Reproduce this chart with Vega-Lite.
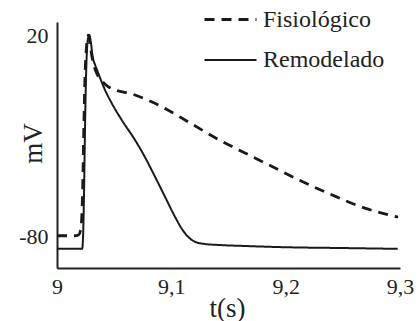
{
  "$schema": "https://vega.github.io/schema/vega-lite/v6.json",
  "width": 343,
  "height": 246,
  "autosize": "none",
  "padding": {"left": 57, "top": 22, "right": 18, "bottom": 53},
  "background": "white",
  "config": {
    "view": {"stroke": null},
    "font": "Liberation Serif",
    "axis": {"grid": false, "domainColor": "#222", "domainWidth": 2, "labelColor": "#222", "titleColor": "#222", "labelFont": "Liberation Serif", "titleFont": "Liberation Serif", "titleFontWeight": "normal"}
  },
  "data": {"values": [
    {"t": 9.000, "v": -86, "s": "Remodelado"},
    {"t": 9.022, "v": -86, "s": "Remodelado"},
    {"t": 9.0228, "v": -80, "s": "Remodelado"},
    {"t": 9.0236, "v": -60, "s": "Remodelado"},
    {"t": 9.0244, "v": -30, "s": "Remodelado"},
    {"t": 9.0252, "v": -5, "s": "Remodelado"},
    {"t": 9.026, "v": 10, "s": "Remodelado"},
    {"t": 9.027, "v": 18, "s": "Remodelado"},
    {"t": 9.0283, "v": 20, "s": "Remodelado"},
    {"t": 9.0295, "v": 17, "s": "Remodelado"},
    {"t": 9.031, "v": 10, "s": "Remodelado"},
    {"t": 9.0335, "v": 5, "s": "Remodelado"},
    {"t": 9.0355, "v": 2, "s": "Remodelado"},
    {"t": 9.042, "v": -7.2, "s": "Remodelado"},
    {"t": 9.0479, "v": -13.8, "s": "Remodelado"},
    {"t": 9.0566, "v": -22.1, "s": "Remodelado"},
    {"t": 9.0682, "v": -32, "s": "Remodelado"},
    {"t": 9.077, "v": -40.6, "s": "Remodelado"},
    {"t": 9.0857, "v": -50.2, "s": "Remodelado"},
    {"t": 9.0945, "v": -60.2, "s": "Remodelado"},
    {"t": 9.1032, "v": -70.1, "s": "Remodelado"},
    {"t": 9.108, "v": -75, "s": "Remodelado"},
    {"t": 9.112, "v": -78.3, "s": "Remodelado"},
    {"t": 9.1207, "v": -82.5, "s": "Remodelado"},
    {"t": 9.1295, "v": -83.6, "s": "Remodelado"},
    {"t": 9.142, "v": -84.1, "s": "Remodelado"},
    {"t": 9.16, "v": -84.5, "s": "Remodelado"},
    {"t": 9.2, "v": -85.2, "s": "Remodelado"},
    {"t": 9.25, "v": -85.6, "s": "Remodelado"},
    {"t": 9.298, "v": -86, "s": "Remodelado"},
    {"t": 9.000, "v": -79.5, "s": "Fisiológico"},
    {"t": 9.0157, "v": -79.5, "s": "Fisiológico"},
    {"t": 9.019, "v": -79, "s": "Fisiológico"},
    {"t": 9.0205, "v": -77, "s": "Fisiológico"},
    {"t": 9.0215, "v": -72, "s": "Fisiológico"},
    {"t": 9.0225, "v": -55, "s": "Fisiológico"},
    {"t": 9.0235, "v": -25, "s": "Fisiológico"},
    {"t": 9.0245, "v": 0, "s": "Fisiológico"},
    {"t": 9.0255, "v": 12, "s": "Fisiológico"},
    {"t": 9.0265, "v": 18, "s": "Fisiológico"},
    {"t": 9.0275, "v": 20, "s": "Fisiológico"},
    {"t": 9.029, "v": 15, "s": "Fisiológico"},
    {"t": 9.031, "v": 8, "s": "Fisiológico"},
    {"t": 9.034, "v": 2, "s": "Fisiológico"},
    {"t": 9.039, "v": -2.5, "s": "Fisiológico"},
    {"t": 9.0449, "v": -5.6, "s": "Fisiológico"},
    {"t": 9.0682, "v": -9.7, "s": "Fisiológico"},
    {"t": 9.0916, "v": -15.5, "s": "Fisiológico"},
    {"t": 9.112, "v": -22.1, "s": "Fisiológico"},
    {"t": 9.1266, "v": -27, "s": "Fisiológico"},
    {"t": 9.142, "v": -32, "s": "Fisiológico"},
    {"t": 9.1533, "v": -35.3, "s": "Fisiológico"},
    {"t": 9.1823, "v": -43.5, "s": "Fisiológico"},
    {"t": 9.2113, "v": -51.8, "s": "Fisiológico"},
    {"t": 9.2403, "v": -59.2, "s": "Fisiológico"},
    {"t": 9.2693, "v": -65.8, "s": "Fisiológico"},
    {"t": 9.2983, "v": -70.3, "s": "Fisiológico"}
  ]},
  "mark": {"type": "line", "color": "#1a1a1a", "interpolate": "monotone"},
  "encoding": {
    "x": {"field": "t", "type": "quantitative",
      "scale": {"domain": [9, 9.3], "nice": false, "zero": false},
      "axis": {"values": [9, 9.1, 9.2, 9.3], "labelExpr": "replace(format(datum.value, '~g'), '.', ',')", "ticks": false, "labelFontSize": 22, "labelPadding": 8, "labelFlush": false, "title": "t(s)", "titleFontSize": 27, "titleX": 170, "titleY": 48, "titleBaseline": "alphabetic", "titleAnchor": "middle"}},
    "y": {"field": "v", "type": "quantitative",
      "scale": {"domain": [-95.5, 26.5], "nice": false, "zero": false},
      "axis": {"values": [20, -80], "labelExpr": "datum.value < 0 ? '-' + format(-datum.value, 'd') : format(datum.value, 'd')", "ticks": false, "labelFontSize": 22, "labelPadding": 9, "title": "mV", "titleFontSize": 27, "titleX": -16, "titleY": 121, "titleBaseline": "alphabetic", "titleAngle": -90, "titleAlign": "center"}},
    "strokeDash": {"field": "s", "type": "nominal",
      "scale": {"domain": ["Fisiológico", "Remodelado"], "range": [[10, 7], [1, 0]]},
      "legend": {"orient": "none", "legendX": 146, "legendY": -30, "title": null, "padding": 0, "labelFont": "Liberation Serif", "labelFontSize": 24, "labelColor": "#222", "symbolType": "stroke", "symbolSize": 2704, "symbolStrokeColor": "#1a1a1a", "symbolStrokeWidth": 2, "labelOffset": 5, "rowPadding": 1}},
    "strokeWidth": {"field": "s", "type": "nominal",
      "scale": {"domain": ["Fisiológico", "Remodelado"], "range": [2.8, 2]}, "legend": null}
  }
}
